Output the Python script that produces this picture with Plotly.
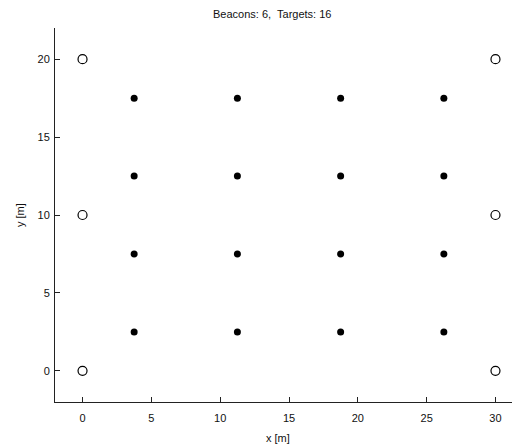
import plotly.graph_objects as go

beacon_x = [0, 0, 0, 30, 30, 30]
beacon_y = [0, 10, 20, 0, 10, 20]
target_cols = [3.75, 11.25, 18.75, 26.25]
target_rows = [2.5, 7.5, 12.5, 17.5]
target_x = [x for x in target_cols for _ in target_rows]
target_y = [y for _ in target_cols for y in target_rows]
x_ticks = [0, 5, 10, 15, 20, 25, 30]
y_ticks = [0, 5, 10, 15, 20]

FONT = dict(family="Liberation Sans", size=11, color="#111")

fig = go.Figure()
fig.add_trace(go.Scatter(x=beacon_x, y=beacon_y, mode="markers",
                         marker=dict(symbol="circle-open", size=9, color="black",
                                     line=dict(width=1.2, color="black")),
                         showlegend=False))
fig.add_trace(go.Scatter(x=target_x, y=target_y, mode="markers",
                         marker=dict(symbol="circle", size=7, color="black"),
                         showlegend=False))

axis_common = dict(showline=True, linecolor="#222", linewidth=1, ticks="inside",
                   ticklen=5, tickcolor="#222", showgrid=False, zeroline=False,
                   mirror=False, automargin=False, tickfont=FONT)
fig.update_xaxes(range=[-2, 31.2], tickvals=x_ticks, ticklabelstandoff=6, **axis_common)
fig.update_yaxes(range=[-2, 22], tickvals=y_ticks, ticklabelstandoff=2, **axis_common)

fig.update_layout(
    width=512, height=448,
    margin=dict(l=55, r=0, t=28, b=46, autoexpand=False),
    paper_bgcolor="white", plot_bgcolor="white",
    annotations=[
        dict(text="Beacons: 6,  Targets: 16", xref="paper", yref="paper", x=0.475, y=1.0,
             yshift=14, xanchor="center", yanchor="middle", showarrow=False, font=FONT),
        dict(text="x [m]", xref="paper", yref="paper", x=0.487, y=0, yshift=-36,
             xanchor="center", yanchor="middle", showarrow=False, font=FONT),
        dict(text="y [m]", xref="paper", yref="paper", x=0, xshift=-35, y=0.5, textangle=-90,
             xanchor="center", yanchor="middle", showarrow=False, font=FONT),
    ],
)
fig.write_html("out.html", config={"displayModeBar": False},
               post_script="document.body.style.margin='0';document.body.style.overflow='hidden';")
